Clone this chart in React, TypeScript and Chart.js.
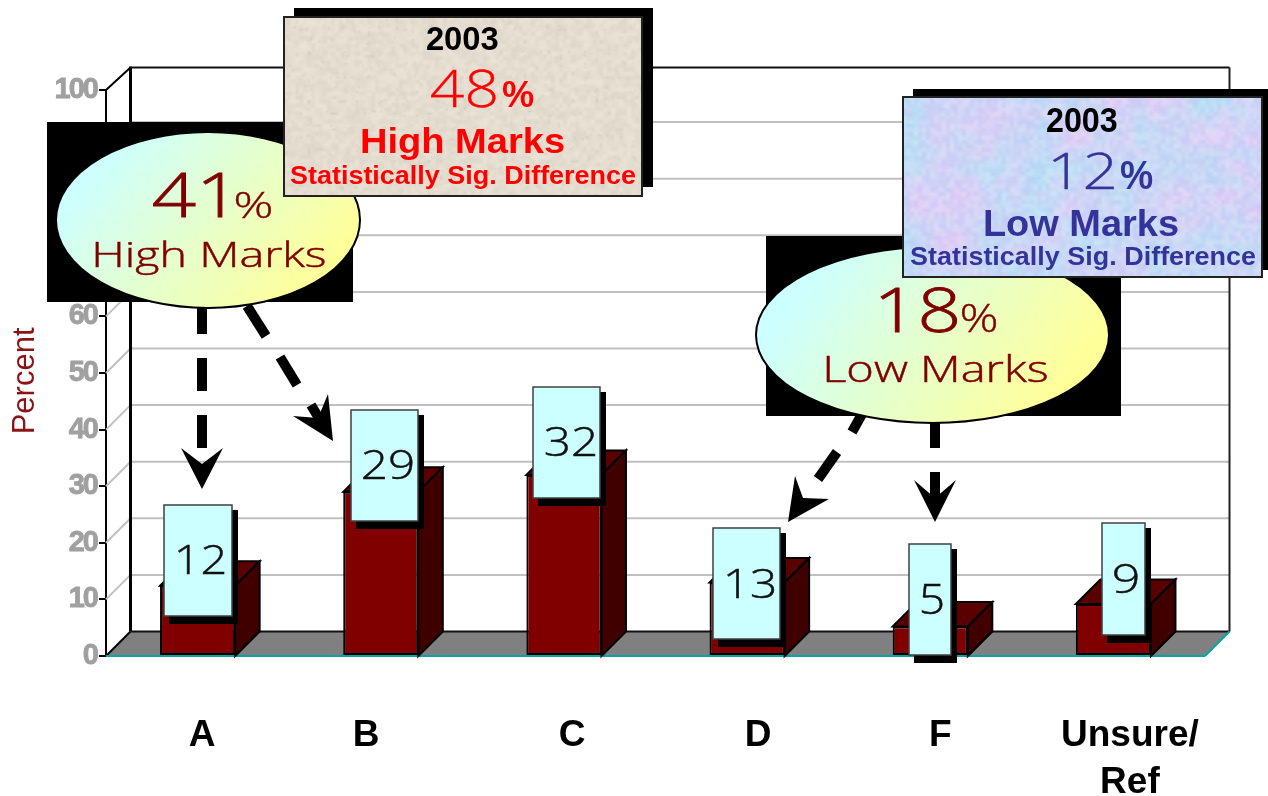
import React, { useEffect, useRef } from "react";
import { Chart, registerables } from "chart.js";

Chart.register(...registerables);

// ---------- data ----------
const categories = ["A", "B", "C", "D", "F", ["Unsure/", "Ref"]];
const values = [12, 29, 32, 13, 5, 9];
const barHeights = [12.4, 29, 32, 13, 5.2, 9.2];
const yTicks = [0, 10, 20, 30, 40, 50, 60, 70, 80, 90, 100];
const categoryLabelSlots = [0.525, 1.42, 2.545, 3.56, 4.555, 5.59];
const yAxisTitle = "Percent";

// ---------- annotation layout (callouts pasted over the chart) ----------
const cardRects = [
  [164, 505, 232, 616],
  [351, 410, 418, 521],
  [533, 387, 600, 498],
  [713, 528, 780, 639],
  [909, 544, 951, 655],
  [1102, 523, 1145, 635],
];
const cardTextBoxes = [
  [178, 543, 225, 574],
  [363, 448, 413, 479],
  [546, 425, 596, 456],
  [727, 567, 775, 598],
  [922, 583, 943, 614],
  [1114, 563, 1138, 593],
];

const DEPTH = 24.5;
const SANS = '"Liberation Sans"';
const THIN = '"Open Sans"';

function fitText(ctx: CanvasRenderingContext2D, text: string, font: string, color: string, x0: number, x1: number, top: number, base: number, strokeW = 0) {
  ctx.save();
  ctx.letterSpacing = "0px";
  ctx.font = font;
  ctx.fillStyle = color;
  ctx.textAlign = "left";
  ctx.textBaseline = "alphabetic";
  const m = ctx.measureText(text);
  const w = m.actualBoundingBoxLeft + m.actualBoundingBoxRight;
  const sx = (x1 - x0) / w;
  ctx.translate(x0 + m.actualBoundingBoxLeft * sx, base);
  ctx.scale(sx, (base - top) / m.actualBoundingBoxAscent);
  ctx.fillText(text, 0, 0);
  if (strokeW) {
    ctx.strokeStyle = color;
    ctx.lineWidth = strokeW;
    ctx.strokeText(text, 0, 0);
  }
  ctx.restore();
}

function hash(a: number, b: number) {
  const s = Math.sin(a * 127.1 + b * 311.7) * 43758.5453;
  return s - Math.floor(s);
}

function smooth(x: number, y: number) {
  const i = Math.floor(x);
  const j = Math.floor(y);
  const f = x - i;
  const g = y - j;
  const u = f * f * (3 - 2 * f);
  const v = g * g * (3 - 2 * g);
  const a = hash(i, j) * (1 - u) + hash(i + 1, j) * u;
  const b = hash(i, j + 1) * (1 - u) + hash(i + 1, j + 1) * u;
  return a * (1 - v) + b * v;
}

function texturedFill(ctx: CanvasRenderingContext2D, x: number, y: number, w: number, h: number, kind: "tan" | "blue") {
  const cell = 2;
  const cols = Math.ceil(w / cell);
  const rows = Math.ceil(h / cell);
  const off = document.createElement("canvas");
  off.width = cols;
  off.height = rows;
  const o = off.getContext("2d")!;
  const img = o.createImageData(cols, rows);
  for (let j = 0; j < rows; j++) {
    for (let i = 0; i < cols; i++) {
      const p = (i + j * cols) * 4;
      if (kind === "tan") {
        const d = (smooth(i / 2, j / 2) - 0.5) * 14 + (smooth(i / 1.2 + 40, j / 1.2) > 0.88 ? -10 : 0);
        img.data[p] = 228 + d;
        img.data[p + 1] = 221 + d;
        img.data[p + 2] = 208 + d;
      } else {
        const big = smooth(i / 22 + 7, j / 18 + 3);
        const mid = smooth(i / 7, j / 7);
        const fine = smooth(i / 2, j / 2 + 30);
        const pink = big * 0.55 + mid * 0.45;
        const k = (fine - 0.5) * 18;
        img.data[p] = 178 + pink * 50 + k;
        img.data[p + 1] = 226 - pink * 22 + k;
        img.data[p + 2] = 246 + k * 0.2;
      }
      img.data[p + 3] = 255;
    }
  }
  o.putImageData(img, 0, 0);
  ctx.save();
  ctx.imageSmoothingEnabled = true;
  ctx.drawImage(off, x, y, w, h);
  ctx.restore();
}

function poly(ctx: CanvasRenderingContext2D, pts: number[][], fill?: string, stroke?: string, lw = 2) {
  ctx.beginPath();
  pts.forEach((p, i) => (i ? ctx.lineTo(p[0], p[1]) : ctx.moveTo(p[0], p[1])));
  ctx.closePath();
  if (fill) {
    ctx.fillStyle = fill;
    ctx.fill();
  }
  if (stroke) {
    ctx.strokeStyle = stroke;
    ctx.lineWidth = lw;
    ctx.lineJoin = "miter";
    ctx.stroke();
  }
}

function line(ctx: CanvasRenderingContext2D, x0: number, y0: number, x1: number, y1: number, color: string, lw: number) {
  ctx.beginPath();
  ctx.moveTo(x0, y0);
  ctx.lineTo(x1, y1);
  ctx.strokeStyle = color;
  ctx.lineWidth = lw;
  ctx.lineCap = "butt";
  ctx.stroke();
}

const scene3d = {
  id: "scene3d",
  beforeDraw(chart: any) {
    const y = chart.scales.y;
    if (!y.__spaced) {
      y.__spaced = true;
      const orig = y.drawLabels.bind(y);
      y.drawLabels = (area: any) => {
        chart.ctx.letterSpacing = "-2px";
        orig(area);
        chart.ctx.letterSpacing = "0px";
      };
    }
    chart.ctx.letterSpacing = "0px";
  },
  beforeDatasetsDraw(chart: any) {
    chart.ctx.letterSpacing = "0px";
    const ctx: CanvasRenderingContext2D = chart.ctx;
    const { left, right, top, bottom } = chart.chartArea;
    const y = chart.scales.y;
    ctx.save();
    // wall grid
    yTicks.filter((t) => t > 0 && t < 100).forEach((t) => {
      const p = y.getPixelForValue(t);
      line(ctx, left, p, left + DEPTH, p - DEPTH, "#c0c0c0", 2);
      line(ctx, left + DEPTH, p - DEPTH, right + DEPTH, p - DEPTH, "#c0c0c0", 2);
    });
    // wall frame
    const backTop = 67.5;
    const floorBack = bottom - DEPTH;
    line(ctx, left, top, left + DEPTH, backTop, "#000", 2);
    line(ctx, left + DEPTH, backTop - 1, left + DEPTH, floorBack, "#000", 3);
    line(ctx, left + DEPTH, backTop, right + DEPTH, backTop, "#111", 2);
    line(ctx, right + DEPTH, backTop, right + DEPTH, floorBack, "#222", 2);
    // floor
    poly(ctx, [[left, bottom], [right, bottom], [right + DEPTH, floorBack], [left + DEPTH, floorBack]], "#808080");
    line(ctx, left, bottom, left + DEPTH, floorBack, "#000", 2);
    line(ctx, left + DEPTH, floorBack, right + DEPTH, floorBack, "#111", 2);
    line(ctx, left, bottom, right, bottom, "#00a5a5", 2);
    line(ctx, right, bottom, right + DEPTH, floorBack, "#00a5a5", 2);
    // bar depth faces
    chart.getDatasetMeta(0).data.forEach((b: any) => {
      const x0 = b.x - b.width / 2;
      const x1 = b.x + b.width / 2;
      poly(ctx, [[x0, b.y], [x0 + DEPTH, b.y - DEPTH], [x1 + DEPTH, b.y - DEPTH], [x1, b.y]], "#5a0000", "#000");
      poly(ctx, [[x1, b.y], [x1 + DEPTH, b.y - DEPTH], [x1 + DEPTH, bottom - DEPTH], [x1, bottom]], "#400000", "#000");
    });
    // axis title
    ctx.translate(34, y.getPixelForValue(48.6));
    ctx.rotate(-Math.PI / 2);
    ctx.font = `31px ${SANS}`;
    ctx.fillStyle = "#8b1414";
    ctx.textAlign = "center";
    ctx.textBaseline = "alphabetic";
    ctx.fillText(yAxisTitle, 0, 0);
    ctx.restore();
  },
  afterDatasetsDraw(chart: any) {
    const ctx: CanvasRenderingContext2D = chart.ctx;
    ctx.save();
    ctx.letterSpacing = "0px";

    // value cards
    cardRects.forEach((r, i) => {
      const [x0, y0, x1, y1] = r;
      ctx.fillStyle = "#000";
      ctx.fillRect(x0 + 5, y0 + 5, x1 - x0 + 1, y1 - y0 + 3);
      ctx.fillStyle = "#ccffff";
      ctx.fillRect(x0, y0, x1 - x0, y1 - y0);
      ctx.strokeStyle = "#404040";
      ctx.lineWidth = 1.5;
      ctx.strokeRect(x0, y0, x1 - x0, y1 - y0);
      const t = cardTextBoxes[i];
      fitText(ctx, String(values[i]), `300 44px ${THIN}`, "#111", t[0], t[2], t[1], t[3], 0.5);
    });

    // dashed arrows
    const seg = (a: number[], b: number[]) => line(ctx, a[0], a[1], b[0], b[1], "#000", 10);
    seg([202, 305], [202, 334]);
    seg([202, 358], [202, 391]);
    seg([202, 415], [202, 448]);
    poly(ctx, [[181, 448], [202, 464], [223, 448], [202, 489]], "#000");
    seg([247, 306], [266, 336]);
    seg([280, 357], [297, 385]);
    seg([311, 405], [320, 420]);
    poly(ctx, [[333, 441], [293, 416], [318, 418], [328, 394]], "#000");
    seg([862, 414], [852, 432]);
    seg([837, 452], [818, 479]);
    poly(ctx, [[788, 522], [795, 476], [803, 498], [829, 499]], "#000");
    seg([935, 415], [935, 448]);
    seg([935, 472], [935, 500]);
    poly(ctx, [[914, 480], [935, 498], [956, 480], [935, 522]], "#000");

    const ellipse = (cx: number, cy: number, rx: number, ry: number) => {
      const g = ctx.createLinearGradient(cx - rx * 0.62, cy - ry * 0.9, cx + rx * 0.62, cy + ry * 0.9);
      g.addColorStop(0, "#ccffff");
      g.addColorStop(1, "#ffff99");
      ctx.beginPath();
      ctx.ellipse(cx, cy, rx, ry, 0, 0, Math.PI * 2);
      ctx.fillStyle = g;
      ctx.fill();
      ctx.strokeStyle = "#000";
      ctx.lineWidth = 2;
      ctx.stroke();
    };
    // left ellipse
    ctx.fillStyle = "#000";
    ctx.fillRect(47, 122, 306, 180);
    ellipse(208, 220, 152, 88);
    fitText(ctx, "41", `300 60px ${THIN}`, "#800000", 153, 222, 173, 217, 0.8);
    fitText(ctx, "%", `300 37px ${THIN}`, "#800000", 236, 271, 192, 218, 0.4);
    fitText(ctx, "High Marks", `300 37px ${THIN}`, "#800000", 95, 325, 240, 267, 0.5);

    // right ellipse
    ctx.fillStyle = "#000";
    ctx.fillRect(766, 236, 355, 180);
    ellipse(932.5, 335, 176.5, 88);
    fitText(ctx, "18", `300 60px ${THIN}`, "#800000", 880, 957, 287, 332, 0.8);
    fitText(ctx, "%", `300 37px ${THIN}`, "#800000", 962, 996, 305, 332, 0.4);
    fitText(ctx, "Low Marks", `300 37px ${THIN}`, "#800000", 826, 1047, 354, 382, 0.5);

    // tan box
    ctx.fillStyle = "#000";
    ctx.fillRect(294, 8, 359, 179);
    texturedFill(ctx, 284, 17, 358, 179, "tan");
    ctx.strokeStyle = "#222";
    ctx.lineWidth = 2;
    ctx.strokeRect(284, 17, 358, 179);
    fitText(ctx, "2003", `bold 30px ${SANS}`, "#000", 427, 498, 28, 50);
    fitText(ctx, "48", `300 50px ${THIN}`, "#ff0000", 431, 496, 69, 107, 0.3);
    fitText(ctx, "%", `bold 34px ${SANS}`, "#ff0000", 502, 534, 82, 107);
    fitText(ctx, "High Marks", `bold 36px ${SANS}`, "#ff0000", 362, 564, 127, 153);
    fitText(ctx, "Statistically Sig. Difference", `bold 27px ${SANS}`, "#ff0000", 290, 636, 165, 184);

    // blue box
    ctx.fillStyle = "#000";
    ctx.fillRect(913, 89, 359, 181);
    texturedFill(ctx, 903, 97, 359, 180, "blue");
    ctx.strokeStyle = "#222";
    ctx.lineWidth = 2;
    ctx.strokeRect(903, 97, 359, 180);
    fitText(ctx, "2003", `bold 30px ${SANS}`, "#000", 1047, 1117, 109, 132);
    fitText(ctx, "12", `300 50px ${THIN}`, "#333399", 1052, 1115, 152, 189, 0.3);
    fitText(ctx, "%", `bold 34px ${SANS}`, "#333399", 1120, 1153, 162, 189);
    fitText(ctx, "Low Marks", `bold 36px ${SANS}`, "#333399", 985, 1178, 209, 236);
    fitText(ctx, "Statistically Sig. Difference", `bold 27px ${SANS}`, "#333399", 910, 1256, 246, 265);
    ctx.restore();
  },
};

export default function App() {
  const ref = useRef<HTMLCanvasElement>(null);
  useEffect(() => {
    const chart = new Chart(ref.current!, {
      type: "bar",
      data: {
        labels: categories as any,
        datasets: [
          {
            label: "Percent",
            data: barHeights,
            backgroundColor: "#800000",
            borderColor: "#000",
            borderWidth: 2,
            borderSkipped: false,
            barPercentage: 0.41,
            categoryPercentage: 1,
          },
        ],
      },
      options: {
        responsive: false,
        animation: false,
        devicePixelRatio: 1,
        layout: { padding: { top: 90, right: 63, left: 0, bottom: 0 } },
        plugins: { legend: { display: false }, tooltip: { enabled: false }, title: { display: false } },
        scales: {
          x: { display: false, type: "category" },
          labelAxis: {
            type: "linear",
            axis: "x",
            position: "bottom",
            offset: false,
            min: 0,
            max: 6,
            grid: { display: false },
            border: { display: false },
            afterBuildTicks: (s: any) => {
              s.ticks = categoryLabelSlots.map((value) => ({ value }));
            },
            afterFit: (s: any) => {
              s.height = 140;
            },
            ticks: {
              autoSkip: false,
              maxRotation: 0,
              minRotation: 0,
              padding: 48,
              color: "#000",
              font: { family: SANS, weight: "bold", size: 37, lineHeight: 1.27 },
              callback: (_v: any, i: number) => categories[i],
            },
          } as any,
          y: {
            min: 0,
            max: 100,
            position: "left",
            afterFit: (s: any) => {
              s.width = 106;
            },
            afterBuildTicks: (s: any) => {
              s.ticks = yTicks.map((value) => ({ value }));
            },
            grid: { drawOnChartArea: false, drawTicks: true, tickLength: 7, color: "#000", lineWidth: 2 },
            border: { color: "#000", width: 2 },
            ticks: {
              padding: 2,
              color: "#a0a0a0",
              autoSkip: false,
              textStrokeColor: "#a0a0a0",
              textStrokeWidth: 0.8,
              font: { family: SANS, weight: "bold", size: 29 },
            },
          },
        },
      } as any,
      plugins: [scene3d],
    });
    return () => chart.destroy();
  }, []);
  return (
    <div style={{ position: "fixed", left: 0, top: 0, width: 1268, height: 796, overflow: "hidden", background: "#fff" }}>
      <canvas ref={ref} width={1268} height={796} style={{ display: "block" }} />
    </div>
  );
}
